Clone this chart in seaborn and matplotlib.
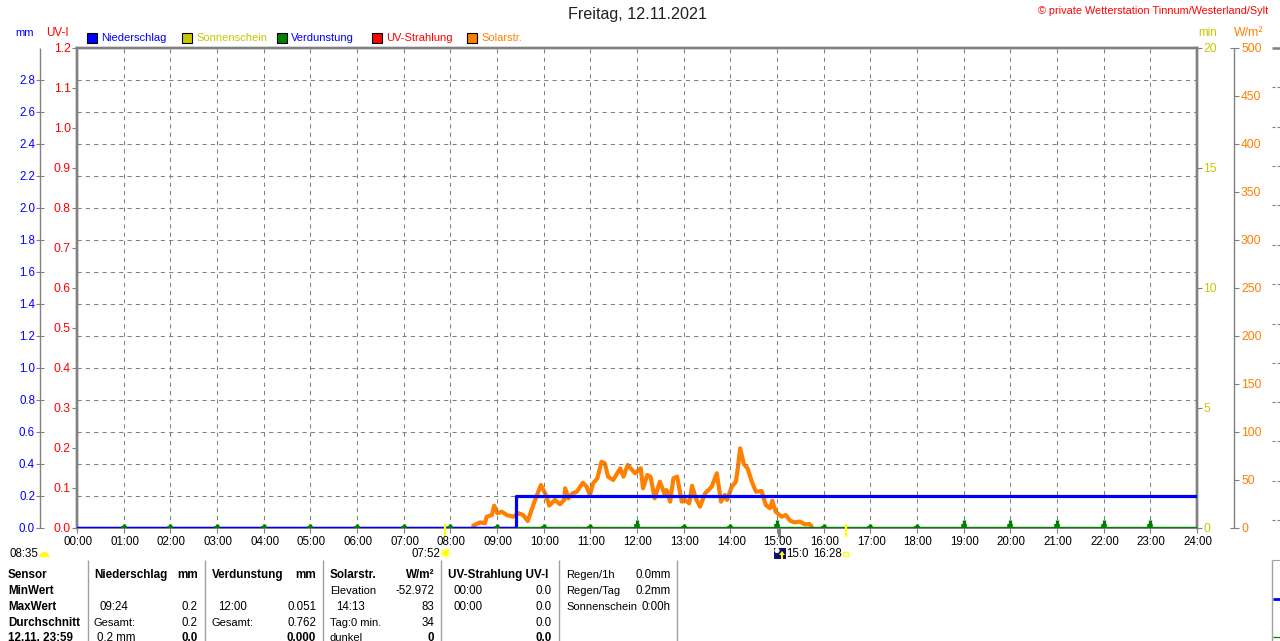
import numpy as np
import pandas as pd
import matplotlib
matplotlib.use('Agg')
import matplotlib.pyplot as plt
from matplotlib.patches import Rectangle, Circle, Wedge, Polygon
import seaborn as sns

# Chart values
hour_labels = ['%02d:00' % h for h in range(25)]
mm_ticks = [0.0, 0.2, 0.4, 0.6, 0.8, 1.0, 1.2, 1.4, 1.6, 1.8, 2.0, 2.2, 2.4, 2.6, 2.8]
uv_ticks = [0.0, 0.1, 0.2, 0.3, 0.4, 0.5, 0.6, 0.7, 0.8, 0.9, 1.0, 1.1, 1.2]
min_ticks = [0, 5, 10, 15, 20]
watt_ticks = [0, 50, 100, 150, 200, 250, 300, 350, 400, 450, 500]

solar_hours = [8.49, 8.64, 8.74, 8.78, 8.89, 8.94, 9.01, 9.10, 9.21, 9.35, 9.46, 9.56, 9.66, 9.74,
               9.83, 9.94, 10.05, 10.12, 10.24, 10.35, 10.44, 10.46, 10.53, 10.62, 10.71, 10.84,
               10.92, 10.99, 11.06, 11.15, 11.24, 11.31, 11.38, 11.49, 11.64, 11.71, 11.80, 11.96,
               12.08, 12.13, 12.22, 12.29, 12.38, 12.49, 12.60, 12.63, 12.71, 12.78, 12.86, 12.96,
               13.03, 13.12, 13.18, 13.26, 13.35, 13.46, 13.60, 13.71, 13.80, 13.88, 13.93, 14.03,
               14.12, 14.17, 14.21, 14.29, 14.37, 14.46, 14.55, 14.67, 14.76, 14.85, 14.90, 14.97,
               15.10, 15.19, 15.28, 15.37, 15.49, 15.60, 15.69, 15.74]
solar_watt = [2.4, 5.9, 4.9, 11.8, 13.5, 23.3, 15.3, 17, 13.5, 11.8, 15.3, 13.5, 7.3, 18.7,
              30.9, 44.8, 34.4, 23.3, 29.2, 24.7, 29.2, 41.3, 30.9, 36.1, 37.8, 47.2,
              43, 34.4, 46.5, 51.7, 69, 67.4, 53.5, 50, 62.2, 53.5, 65.6, 57,
              62.2, 41.3, 55.2, 53.5, 30.9, 48.3, 34.4, 39.6, 27.4, 51.7, 53.5, 27.4,
              29.2, 25.7, 44, 30.9, 22.2, 36.1, 43, 57, 27.4, 34.4, 29.2, 43,
              48.3, 65.6, 83, 66.4, 62.2, 48.3, 37.8, 38.5, 24, 20.5, 28.4, 17,
              11.8, 13.5, 7.6, 5.9, 6.6, 3.8, 4.2, 2.1]

rain_hours = [0, 9.4, 9.4, 24]
rain_mm = [0, 0, 0.2, 0.2]

evap_hours = list(range(1, 24))
evap_mm = [0.025, 0.025, 0.025, 0.025, 0.025, 0.025, 0.025, 0.025, 0.025, 0.025, 0.025, 0.051,
           0.025, 0.025, 0.051, 0.025, 0.025, 0.025, 0.051, 0.051, 0.051, 0.051, 0.051]

legend_names = ['Niederschlag', 'Sonnenschein', 'Verdunstung', 'UV-Strahlung', 'Solarstr.']
legend_colors = ['#0000ff', '#c8c800', '#008000', '#ff0000', '#ff8000']
legend_text_colors = ['#0000ff', '#c8c800', '#0000ff', '#ff0000', '#ff8000']

table_col1 = ['Sensor', 'MinWert', 'MaxWert', 'Durchschnitt', '12.11. 23:59']

W, H = 1280, 641
GREY = '#808080'
sns.set_style('white')
plt.rcParams['font.family'] = ['Liberation Sans', 'DejaVu Sans']
FS = 8.0

fig = plt.figure(figsize=(12.8, 6.41), dpi=100)
L, R, T, B = 77, 1197, 48, 528
ax = fig.add_axes([L / W, 1 - B / H, (R - L) / W, (B - T) / H])
ax_solar = ax.twinx()
ax.set_xlim(0, 24)
ax.set_ylim(0, 3)
ax_solar.set_ylim(0, 500)
ax_solar.patch.set_visible(False)

# full-figure overlay in pixel coordinates for the window furniture
bg = fig.add_axes([0, 0, 1, 1], zorder=5)
bg.set_xlim(0, W)
bg.set_ylim(H, 0)
bg.axis('off')
bg.patch.set_visible(False)


def txt(x, y, s, color='black', ha='left', size=FS, weight='normal'):
    bg.text(x, y + 1, s, color=color, ha=ha, va='center', fontsize=size, fontweight=weight)


def seg(x0, y0, x1, y1, color=GREY, lw=0.8):
    bg.plot([x0, x1], [y0, y1], color=color, lw=lw, solid_capstyle='butt', clip_on=False)


# grid
ax.set_xticks(range(25))
ax.set_yticks(np.arange(0.2, 3.0, 0.2))
ax.grid(True, color=GREY, linestyle=(0, (4, 4)), linewidth=0.75)
ax.tick_params(left=False, bottom=False, labelleft=False, labelbottom=False)
ax_solar.tick_params(right=False, labelright=False)
ax_solar.grid(False)
ax.set_axisbelow(True)
for a in [ax, ax_solar]:
    for s in a.spines.values():
        s.set_color(GREY)
        s.set_linewidth(1.7)
    a.spines['bottom'].set_linewidth(1.2)

# series
sns.lineplot(x=solar_hours, y=solar_watt, color='#ff8000', lw=3.0, ax=ax_solar, sort=False,
             estimator=None, errorbar=None, zorder=3)
sns.lineplot(x=rain_hours, y=rain_mm, color='#0000ff', lw=2.3, ax=ax, sort=False,
             estimator=None, errorbar=None, zorder=4)
ax.set_zorder(ax_solar.get_zorder() + 1)
ax.patch.set_visible(False)
ax.plot([9.4, 24], [0.006, 0.006], color='#008000', lw=1.0, zorder=5)
ax.plot([0, 9.4], [0.006, 0.006], color='#0000ff', lw=1.0, zorder=5)
ax.vlines(evap_hours, 0, evap_mm, color='#008000', lw=2.4, zorder=5)
ax.vlines(evap_hours, 0, np.array(evap_mm) * 0.45, color='#008000', lw=4, zorder=5)
ax.set_xlabel('')
ax.set_ylabel('')
ax_solar.set_xlabel('')
ax_solar.set_ylabel('')

# title and header text
txt(638, 14, 'Freitag, 12.11.2021', color='#202020', ha='center', size=11.6)
txt(1268, 10, '© private Wetterstation Tinnum/Westerland/Sylt', color='#ff0000', ha='right', size=7.8)
txt(15, 32, 'mm', color='#0000ff')
txt(46, 32, 'UV-I', color='#ff0000', size=8.4)
txt(1198, 32, 'min', color='#c8c800', size=8.4)
txt(1234, 32, 'W/m²', color='#ff8000', size=8.8)

# legend
legend_x = [87, 182, 277, 372, 467]
for x, name, c, tc in zip(legend_x, legend_names, legend_colors, legend_text_colors):
    bg.add_patch(Rectangle((x, 33), 10, 10, facecolor=c, edgecolor='black', lw=0.8))
    txt(x + 14, 37, name, color=tc)

# left mm axis
seg(40, 48, 40, 528, lw=1.0)
for v in mm_ticks:
    y = B - v / 3 * (B - T)
    seg(36, y, 44, y)
    txt(35, y, '%.1f' % v, color='#0000ff', ha='right', size=8.3)
# UV axis
for v in uv_ticks:
    y = B - v / 1.2 * (B - T)
    seg(72, y, 77, y)
    txt(71, y, '%.1f' % v, color='#ff0000', ha='right', size=8.8)
# minutes axis
for v in min_ticks:
    y = B - v / 20 * (B - T)
    seg(1197, y, 1202, y)
    txt(1203, y, str(v), color='#c8c800', size=8.8)
# W/m2 axis
seg(1234, 48, 1234, 528, lw=1.0)
for v in watt_ticks:
    y = B - v / 500 * (B - T)
    if v in (0, 500):
        seg(1230, y, 1239, y)
    else:
        seg(1234, y, 1239, y)
    txt(1241, y, str(v), color='#ff8000', size=8.8)

# hour labels
for h, lab in enumerate(hour_labels):
    x = L + h * (R - L) / 24
    seg(x, 528, x, 533)
    txt(x + 1, 541, lab, ha='center', size=8.3)
seg(778.5, 528, 778.5, 537, lw=2.2)

# sunrise / sunset markers
txt(10, 553, '08:35', size=8.3)
bg.add_patch(Wedge((44.5, 557), 5, 180, 360, facecolor='#ffff00', edgecolor='none'))
txt(411, 553, '07:52', size=8.3)
bg.add_patch(Circle((445.5, 553), 3.2, facecolor='#ffff00', edgecolor='none'))
for a in np.deg2rad(range(0, 360, 45)):
    seg(445.5 + 3 * np.cos(a), 553 + 3 * np.sin(a), 445.5 + 5.2 * np.cos(a), 553 + 5.2 * np.sin(a),
        color='#ffff00', lw=0.8)
seg(444.5, 524, 444.5, 537, color='#ffff00', lw=1.6)
seg(846, 524, 846, 537, color='#ffff00', lw=1.6)
bg.add_patch(Rectangle((774, 548), 12, 11, facecolor='#101070', edgecolor='none'))
bg.add_patch(Circle((777, 550.5), 2.6, facecolor='white', edgecolor='none'))
bg.add_patch(Rectangle((781, 554), 2, 5, facecolor='#ffff00', edgecolor='none'))
bg.add_patch(Polygon([(779, 555), (782, 551), (785, 555)], facecolor='#ffff00', edgecolor='none'))
txt(786, 553, '15:0', size=8.3)
txt(813, 553, '16:28', size=8.3)
bg.add_patch(Rectangle((843, 552), 5, 4, facecolor='white', edgecolor='#ffff00', lw=0.9))

# next chart, cut off by the right edge of the window
seg(1272, 48, 1280, 48, lw=1.8)
for y in [87, 127, 166, 205, 245, 284, 324, 363, 402, 441, 481, 520]:
    seg(1272, y, 1275, y)
    seg(1277, y, 1280, y)
seg(1272, 559.5, 1272, 641, color='#a0a0a0', lw=1.0)
seg(1272, 559.5, 1280, 559.5, color='#a0a0a0', lw=0.8)
seg(1272.5, 599, 1280, 599, color='#0000ff', lw=2.0)
seg(1272.5, 637, 1280, 637, color='#008000', lw=0.9)

# table
rows_y = [574, 590, 606, 622, 637]
BS = 8.4
for y, s in zip(rows_y, table_col1):
    txt(8, y, s, weight='bold', size=BS)
for x in [88, 205, 323, 441, 559, 677]:
    seg(x, 560, x, 641, color='#a0a0a0', lw=1.0)

txt(94, rows_y[0], 'Niederschlag', weight='bold', size=BS)
txt(198, rows_y[0], 'mm', ha='right', weight='bold', size=BS)
txt(100, rows_y[2], '09:24', size=8.3)
txt(198, rows_y[2], '0.2', ha='right', size=8.3)
txt(94, rows_y[3], 'Gesamt:')
txt(198, rows_y[3], '0.2', ha='right', size=8.3)
txt(97, rows_y[4], '0.2 mm', size=8.3)
txt(198, rows_y[4], '0.0', ha='right', weight='bold', size=BS)

txt(212, rows_y[0], 'Verdunstung', weight='bold', size=BS)
txt(316, rows_y[0], 'mm', ha='right', weight='bold', size=BS)
txt(218, rows_y[2], '12:00', size=8.3)
txt(316, rows_y[2], '0.051', ha='right', size=8.3)
txt(212, rows_y[3], 'Gesamt:')
txt(316, rows_y[3], '0.762', ha='right', size=8.3)
txt(316, rows_y[4], '0.000', ha='right', weight='bold', size=BS)

txt(330, rows_y[0], 'Solarstr.', weight='bold', size=BS)
txt(434, rows_y[0], 'W/m²', ha='right', weight='bold', size=BS)
txt(330, rows_y[1], 'Elevation')
txt(434, rows_y[1], '-52.972', ha='right', size=8.3)
txt(336, rows_y[2], '14:13', size=8.3)
txt(434, rows_y[2], '83', ha='right', size=8.3)
txt(330, rows_y[3], 'Tag:0 min.')
txt(434, rows_y[3], '34', ha='right', size=8.3)
txt(330, rows_y[4], 'dunkel')
txt(434, rows_y[4], '0', ha='right', weight='bold', size=BS)

txt(448, rows_y[0], 'UV-Strahlung UV-I', weight='bold', size=BS)
txt(454, rows_y[1], '00:00', size=8.3)
txt(552, rows_y[1], '0.0', ha='right', size=8.3)
txt(454, rows_y[2], '00:00', size=8.3)
txt(552, rows_y[2], '0.0', ha='right', size=8.3)
txt(552, rows_y[3], '0.0', ha='right', size=8.3)
txt(552, rows_y[4], '0.0', ha='right', weight='bold', size=BS)

txt(566, rows_y[0], 'Regen/1h')
txt(671, rows_y[0], '0.0mm', ha='right', size=8.3)
txt(566, rows_y[1], 'Regen/Tag')
txt(671, rows_y[1], '0.2mm', ha='right', size=8.3)
txt(566, rows_y[2], 'Sonnenschein')
txt(671, rows_y[2], '0:00h', ha='right', size=8.3)

fig.savefig('out.png', dpi=100)
